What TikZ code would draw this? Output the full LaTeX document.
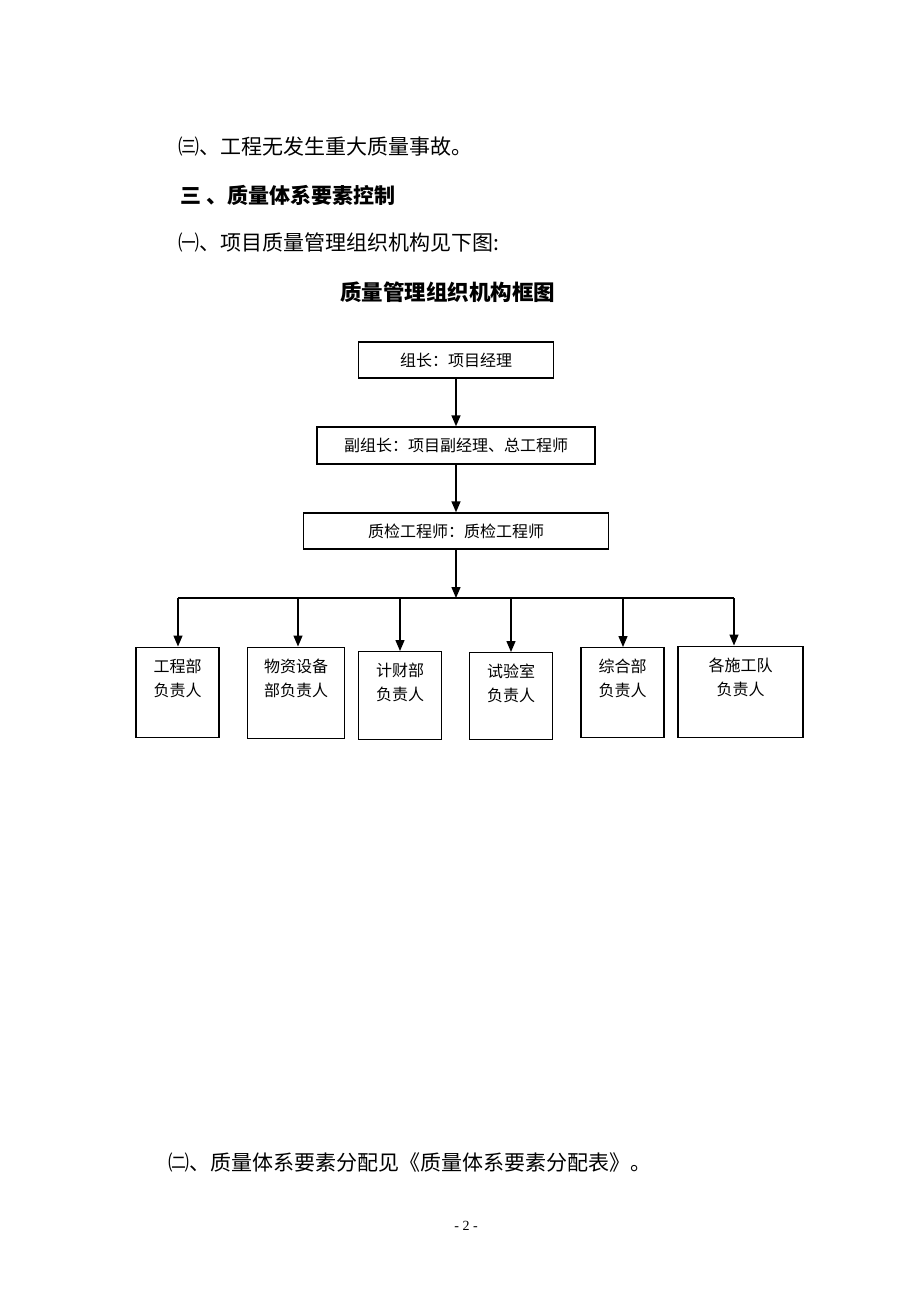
\documentclass[tikz,border=0pt]{standalone}
\usepackage{fontspec}
\setmainfont{Noto Sans CJK SC}
\newfontfamily\latinfont{Liberation Serif}
\usetikzlibrary{arrows.meta}
\tikzset{
    bodytext/.style={anchor=west, inner sep=0pt, font=\fontsize{21}{21}\selectfont},
    titletext/.style={inner sep=0pt, font=\fontsize{21.5}{22}\selectfont\bfseries},
    topbox/.style={draw, line width=1.4pt, inner sep=0pt, font=\fontsize{16}{20}\selectfont},
    leafbox/.style={draw, line width=1.4pt, inner sep=0pt, anchor=north},
    leaftext/.style={align=center, inner sep=0pt, anchor=north, font=\fontsize{16}{24}\selectfont},
    link/.style={line width=1.4pt},
    arrowlink/.style={line width=1.4pt, -{Triangle[length=11pt,width=9pt]}}
}
\begin{document}
\begin{tikzpicture}[x=1pt, y=-1pt]
            \fill[white] (0,0) rectangle (920,1302); % page
            \useasboundingbox (0,0) rectangle (920,1302);
            \node[bodytext] (line1) at (178,147) {㈢、工程无发生重大质量事故。};
            \node[bodytext, font=\fontsize{21}{21}\selectfont\bfseries] (line2) at (180,195) {三 、质量体系要素控制};
            \node[bodytext] (line3) at (178,242) {㈠、项目质量管理组织机构见下图:};
            \node[titletext] (title) at (447.5,292) {质量管理组织机构框图};
            \node[topbox, minimum width=195pt, minimum height=36pt] (leader) at (456,360) {组长：项目经理};
            \node[topbox, minimum width=278pt, minimum height=37pt] (deputy) at (456,445.5) {副组长：项目副经理、总工程师};
            \node[topbox, minimum width=305pt, minimum height=36pt] (qc) at (456,531) {质检工程师：质检工程师};
            \draw[arrowlink] (leader.south) -- (leader.south |- deputy.north);
            \draw[arrowlink] (deputy.south) -- (deputy.south |- qc.north);
            \coordinate (bus) at (456,598); % branch point
            \draw[arrowlink] (qc.south) -- (qc.south |- bus);
            \draw[link] (178,598) -- (734,598); % bus line
            \foreach \i/\bx/\by/\bw/\bh/\ax/\txt in {
                    1/177.5/646.5/83/90/178/{工程部\\负责人},
                    2/296/646.5/97/91/298/{物资设备\\部负责人},
                    3/400/651/83/88/400/{计财部\\负责人},
                    4/511/652/83/87/511/{试验室\\负责人},
                    5/622.5/647/83/90/623/{综合部\\负责人},
                    6/740.5/645.5/125/91/734/{各施工队\\负责人}} {
                    \node[leafbox, minimum width=\bw*1pt, minimum height=\bh*1pt] (leaf\i) at (\bx,\by) {};
                    \node[leaftext] (leaftext\i) at ([yshift=-12pt]leaf\i.north) {\txt};
                    \coordinate (tap\i) at (\ax,598);
                    \draw[arrowlink] (tap\i) -- (tap\i |- leaf\i.north);
                }
            \node[bodytext] (line4) at (168,1163) {㈡、质量体系要素分配见《质量体系要素分配表》。};
            \node[inner sep=0pt, font=\latinfont\fontsize{14}{14}\selectfont] (page) at (466,1226) {- 2 -};
        \end{tikzpicture}
\end{document}
